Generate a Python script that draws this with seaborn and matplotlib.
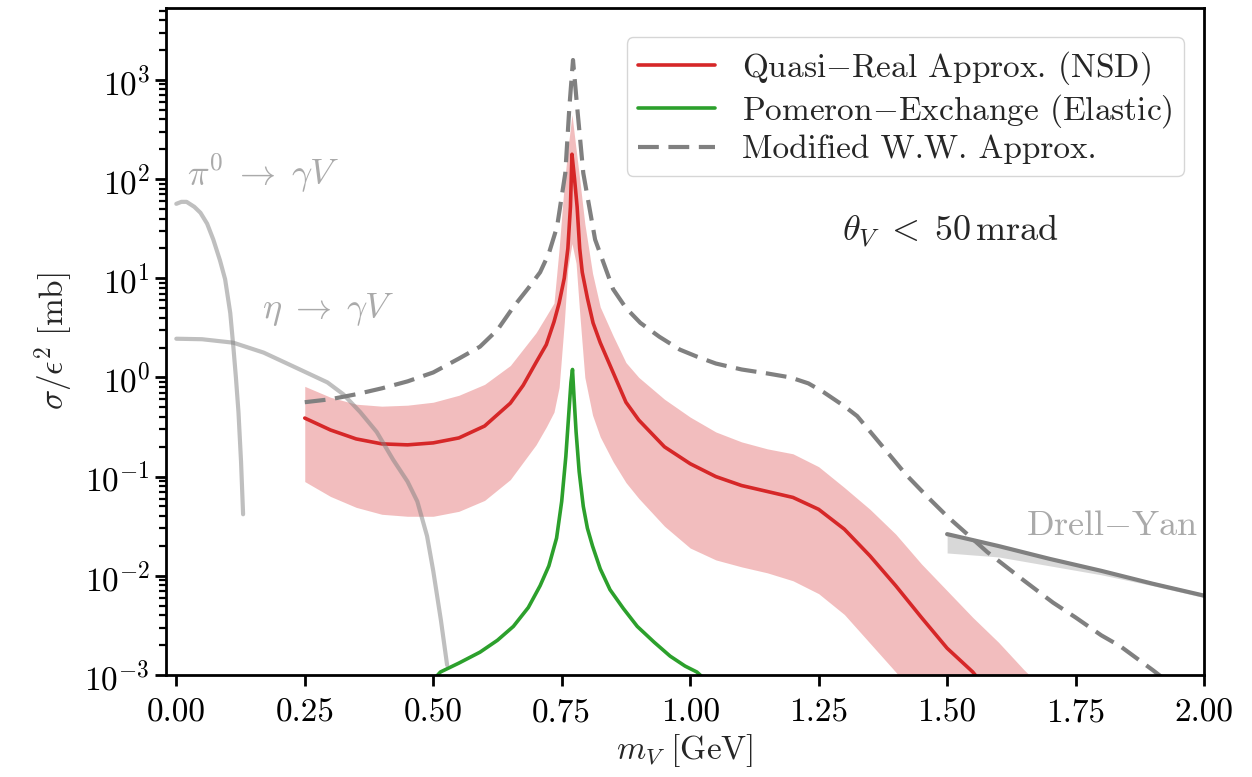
import numpy as np
import pandas as pd
import matplotlib
matplotlib.use("Agg")
import matplotlib.pyplot as plt
import seaborn as sns

# values, stored as log10(sigma / eps^2 [mb])
# Quasi-Real approx (NSD): central line
qr_x = [0.25, 0.30, 0.35, 0.40, 0.45, 0.50, 0.55, 0.60, 0.65, 0.675, 0.70, 0.72, 0.735,
        0.745, 0.755, 0.762, 0.767, 0.77, 0.775, 0.78, 0.785, 0.79, 0.80, 0.811, 0.825,
        0.85, 0.875, 0.90, 0.95, 1.00, 1.05, 1.10, 1.15, 1.20, 1.25, 1.30, 1.35, 1.40,
        1.45, 1.50, 1.55, 1.60]
qr_log = [-0.41, -0.53, -0.62, -0.67, -0.68, -0.66, -0.61, -0.49, -0.26, -0.08, 0.15, 0.33, 0.56,
          0.75, 1.00, 1.30, 1.72, 2.25, 2.00, 1.72, 1.30, 1.06, 0.80, 0.55, 0.35,
          0.05, -0.25, -0.43, -0.70, -0.87, -1.00, -1.09, -1.15, -1.21, -1.33, -1.53, -1.80, -2.10,
          -2.42, -2.73, -2.97, -3.30]

# Quasi-Real approx uncertainty band
band_x = [0.25, 0.30, 0.35, 0.40, 0.45, 0.50, 0.55, 0.60, 0.65, 0.70, 0.72, 0.735,
          0.745, 0.755, 0.762, 0.77, 0.778, 0.785, 0.795, 0.81, 0.825, 0.85, 0.875,
          0.90, 0.95, 1.00, 1.05, 1.10, 1.15, 1.20, 1.25, 1.30, 1.35, 1.40, 1.45,
          1.50, 1.55, 1.60, 1.65, 1.70]
band_hi_log = [-0.09, -0.20, -0.27, -0.29, -0.28, -0.25, -0.18, -0.07, 0.12, 0.45, 0.62, 0.75,
               1.30, 1.95, 2.30, 2.65, 2.30, 2.00, 1.55, 1.05, 0.71, 0.42, 0.15,
               0.00, -0.22, -0.40, -0.55, -0.65, -0.72, -0.77, -0.90, -1.11, -1.33, -1.58, -1.88,
               -2.15, -2.42, -2.67, -2.95, -3.20]
band_lo_log = [-1.05, -1.20, -1.31, -1.38, -1.40, -1.40, -1.35, -1.24, -1.03, -0.68, -0.50, -0.35,
               -0.10, 0.55, 1.10, 1.35, 1.15, 0.65, 0.00, -0.38, -0.60, -0.85, -1.06,
               -1.22, -1.50, -1.72, -1.84, -1.91, -1.97, -2.05, -2.18, -2.39, -2.68, -2.97, -3.30,
               -3.60, -3.90, -4.20, -4.50, -4.80]

# Pomeron exchange (elastic)
pom_x = [0.50, 0.514, 0.55, 0.591, 0.625, 0.656, 0.685, 0.708, 0.725, 0.74, 0.75, 0.758,
         0.764, 0.768, 0.771, 0.774, 0.778, 0.784, 0.792, 0.80, 0.81, 0.825, 0.844, 0.87,
         0.897, 0.93, 0.961, 0.99, 1.013, 1.03]
pom_log = [-3.05, -2.97, -2.88, -2.77, -2.65, -2.51, -2.32, -2.10, -1.90, -1.62, -1.25, -0.80,
           -0.35, -0.05, 0.08, -0.20, -0.55, -0.95, -1.30, -1.52, -1.70, -1.93, -2.14, -2.33,
           -2.51, -2.67, -2.81, -2.91, -2.97, -3.05]

# Modified Weizsaecker-Williams approx
ww_x = [0.25, 0.30, 0.35, 0.40, 0.45, 0.50, 0.55, 0.591, 0.625, 0.656, 0.685, 0.708,
        0.725, 0.741, 0.757, 0.765, 0.772, 0.78, 0.792, 0.815, 0.85, 0.875, 0.903,
        0.94, 0.98, 1.013, 1.05, 1.10, 1.15, 1.195, 1.23, 1.26, 1.30, 1.325, 1.375,
        1.42, 1.461, 1.50, 1.55, 1.578, 1.65, 1.706, 1.75, 1.80, 1.837, 1.90, 1.92]
ww_log = [-0.25, -0.22, -0.17, -0.11, -0.04, 0.05, 0.19, 0.31, 0.48, 0.71, 0.90, 1.06,
          1.25, 1.52, 2.06, 2.73, 3.20, 2.73, 2.06, 1.39, 0.89, 0.70, 0.55,
          0.41, 0.28, 0.21, 0.14, 0.08, 0.04, 0.00, -0.06, -0.15, -0.29, -0.39, -0.70,
          -0.98, -1.20, -1.40, -1.63, -1.76, -2.05, -2.27, -2.42, -2.60, -2.71, -2.95, -3.03]

# pi0 -> gamma V
pi0_x = [0.0, 0.01, 0.02, 0.035, 0.047, 0.06, 0.072, 0.085, 0.095, 0.105, 0.111, 0.116,
         0.121, 0.126, 0.13]
pi0_log = [1.75, 1.77, 1.77, 1.72, 1.66, 1.55, 1.39, 1.18, 0.99, 0.65, 0.31, 0.00,
           -0.35, -0.85, -1.38]

# eta -> gamma V
eta_x = [0.0, 0.05, 0.111, 0.17, 0.228, 0.294, 0.325, 0.358, 0.39, 0.422, 0.45, 0.469,
         0.488, 0.50, 0.515, 0.527]
eta_log = [0.39, 0.385, 0.35, 0.25, 0.11, -0.05, -0.17, -0.35, -0.55, -0.83, -1.05, -1.25,
           -1.60, -1.95, -2.45, -2.90]

# Drell-Yan
dy_x = [1.5, 1.6, 1.7, 1.8, 1.9, 2.0]
dy_log = [-1.58, -1.70, -1.83, -1.95, -2.08, -2.20]
dy_lo_log = [-1.77, -1.81, -1.90, -1.99, -2.10, -2.22]
dy_hi_log = [-1.57, -1.69, -1.82, -1.94, -2.06, -2.18]

sns.set_style("ticks")
plt.rcParams["font.family"] = "serif"
plt.rcParams["font.serif"] = ["cmr10"]
plt.rcParams["mathtext.fontset"] = "cm"
plt.rcParams["axes.formatter.use_mathtext"] = True
plt.rcParams["font.size"] = 24

qr = pd.DataFrame({"m": qr_x, "sigma": 10 ** np.array(qr_log)})
band = pd.DataFrame({"m": band_x, "lo": 10 ** np.array(band_lo_log), "hi": 10 ** np.array(band_hi_log)})
pom = pd.DataFrame({"m": pom_x, "sigma": 10 ** np.array(pom_log)})
ww = pd.DataFrame({"m": ww_x, "sigma": 10 ** np.array(ww_log)})
pi0 = pd.DataFrame({"m": pi0_x, "sigma": 10 ** np.array(pi0_log)})
eta = pd.DataFrame({"m": eta_x, "sigma": 10 ** np.array(eta_log)})
dy = pd.DataFrame({"m": dy_x, "sigma": 10 ** np.array(dy_log),
                   "lo": 10 ** np.array(dy_lo_log), "hi": 10 ** np.array(dy_hi_log)})

fig, ax = plt.subplots(figsize=(12.52, 7.77), dpi=100)
fig.subplots_adjust(left=0.1326, right=0.9617, top=0.9897, bottom=0.1313)

red = "#d62728"
green = "#2ca02c"

ax.fill_between(band["m"], band["lo"], band["hi"], color=red, alpha=0.3, lw=0)
sns.lineplot(data=qr, x="m", y="sigma", ax=ax, color=red, lw=2.6,
             label="Quasi$-$Real Approx. (NSD)")
sns.lineplot(data=pom, x="m", y="sigma", ax=ax, color=green, lw=2.6,
             label="Pomeron$-$Exchange (Elastic)")
sns.lineplot(data=ww, x="m", y="sigma", ax=ax, color="gray", lw=3.0,
             ls=(0, (5, 2.3)), label="Modified W.W. Approx.")

sns.lineplot(data=pi0, x="m", y="sigma", ax=ax, color="gray", alpha=0.5, lw=3.0)
sns.lineplot(data=eta, x="m", y="sigma", ax=ax, color="gray", alpha=0.5, lw=3.0)

ax.fill_between(dy["m"], dy["lo"], dy["hi"], color="gray", alpha=0.3, lw=0)
sns.lineplot(data=dy, x="m", y="sigma", ax=ax, color="gray", lw=3.0)

ax.set_yscale("log")
ax.set_xlim(-0.02, 2.0)
ax.set_ylim(1e-3, 5.3e3)
ax.set_xticks([0.0, 0.25, 0.5, 0.75, 1.0, 1.25, 1.5, 1.75, 2.0])
ax.set_xticklabels(["0.00", "0.25", "0.50", "0.75", "1.00", "1.25", "1.50", "1.75", "2.00"])

ax.set_xlabel(r"$m_V\ [\mathrm{GeV}]$", labelpad=3)
ax.set_ylabel(r"$\sigma/\epsilon^2\ [\mathrm{mb}]$", labelpad=6)

for s in ax.spines.values():
    s.set_linewidth(2.0)
    s.set_color("black")
ax.tick_params(which="major", direction="out", length=8, width=2, colors="black")
ax.tick_params(axis="x", which="major", pad=9)
ax.tick_params(which="minor", direction="out", length=5, width=1.6, colors="black")

lab_col = "#aaaaaa"
ax.text(0.02, 10 ** 1.94, r"$\pi^0 \;\rightarrow\; \gamma V$", color=lab_col, fontsize=26)
ax.text(0.167, 10 ** 0.6, r"$\eta \;\rightarrow\; \gamma V$", color=lab_col, fontsize=26)
ax.text(1.988, 10 ** -1.59, "Drell$-$Yan", color=lab_col, ha="right", fontsize=26)
ax.text(1.506, 10 ** 1.47, r"$\theta_V \;<\; 50\,\mathrm{mrad}$", ha="center", va="center", fontsize=26)

ax.legend(loc="upper right", bbox_to_anchor=(1.0, 0.986), handlelength=2.3, fontsize=24,
          edgecolor="#cccccc", borderpad=0.35, labelspacing=0.15, handletextpad=0.8,
          borderaxespad=0.6)

fig.savefig("out.png", dpi=100)
